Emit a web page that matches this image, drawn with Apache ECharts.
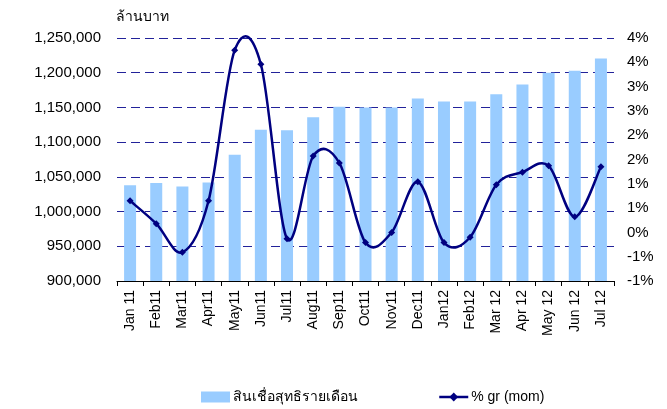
<!DOCTYPE html>
<html><head><meta charset="utf-8">
<script src="https://cdn.jsdelivr.net/npm/echarts@6/dist/echarts.min.js"></script>
<style>html,body{margin:0;padding:0;background:#fff}#c{width:667px;height:409px}</style>
</head><body><div id="c"></div>
<script>
const categories = ['Jan 11','Feb11','Mar11','Apr11','May11','Jun11','Jul11','Aug11','Sep11','Oct11','Nov11','Dec11','Jan12','Feb12','Mar 12','Apr 12','May 12','Jun 12','Jul 12'];
const loans = [1038000,1041000,1036000,1042000,1082000,1118000,1117000,1136000,1151000,1150000,1150000,1163000,1158500,1158500,1169000,1183000,1200000,1203000,1220500];
const growth = [0.65,0.18,-0.41,0.65,3.75,3.46,-0.13,1.57,1.43,-0.21,0.0,1.04,-0.21,-0.10,0.98,1.24,1.37,0.32,1.35];
const barName = 'สินเชื่อสุทธิรายเดือน';
const lineName = '% gr (mom)';
const unitTitle = 'ล้านบาท';

const chart = echarts.init(document.getElementById('c'));
const font = '"Liberation Sans", Arial, sans-serif';
const navy = '#000080';

function smoothPath(params, api) {
  if (params.dataIndex !== 0) return null;
  const pts = growth.map((v, i) => api.coord([i, v]));
  const n = pts.length;
  const path = [['M', pts[0][0], pts[0][1]]];
  const t = 1 / 6;
  for (let i = 0; i < n - 1; i++) {
    const p0 = pts[Math.max(0, i - 1)], p1 = pts[i], p2 = pts[i + 1], p3 = pts[Math.min(n - 1, i + 2)];
    const c1 = [p1[0] + (p2[0] - p0[0]) * t, p1[1] + (p2[1] - p0[1]) * t];
    const c2 = [p2[0] - (p3[0] - p1[0]) * t, p2[1] - (p3[1] - p1[1]) * t];
    path.push(['C', c1[0], c1[1], c2[0], c2[1], p2[0], p2[1]]);
  }
  const d = path.map(s => s[0] + s.slice(1).map(x => x.toFixed(2)).join(' ')).join(' ');
  return {
    type: 'path',
    shape: {pathData: d},
    style: {fill: null, stroke: navy, lineWidth: 2.5, lineJoin: 'round'}
  };
}

chart.setOption({
  animation: false,
  textStyle: {fontFamily: font},
  title: {text: unitTitle, left: 111, top: 5, textStyle: {fontSize: 14, fontWeight: 'normal', color: '#000', fontFamily: font}},
  grid: {left: 117, right: 53, top: 38, bottom: 128},
  legend: {
    bottom: 0, left: 196, itemGap: 80, itemWidth: 29, itemHeight: 11,
    textStyle: {fontSize: 14, color: '#000', fontFamily: font, padding: [0, 0, 0, -2]},
    data: [
      {name: barName, icon: 'rect'},
      {name: lineName, lineStyle: {color: navy, width: 2.5, opacity: 1}, itemStyle: {color: navy}}
    ]
  },
  xAxis: {
    type: 'category', data: categories, boundaryGap: true,
    axisLine: {onZero: false, lineStyle: {color: '#000', width: 1}},
    axisTick: {show: true, interval: 0, length: 5, lineStyle: {color: '#000'}},
    axisLabel: {rotate: 90, interval: 0, fontSize: 14, color: '#000', margin: 9, fontFamily: font}
  },
  yAxis: [{
    type: 'value', min: 900000, max: 1250000, interval: 50000,
    axisLine: {show: false}, axisTick: {show: false},
    axisLabel: {fontSize: 15, color: '#000', margin: 16, fontFamily: font,
      formatter: v => v.toLocaleString('en-US')},
    splitLine: {show: true, lineStyle: {color: '#22229a', type: [9, 5], width: 1}}
  }, {
    type: 'value', min: -1, max: 4, interval: 0.5,
    axisLine: {show: false}, axisTick: {show: false},
    axisLabel: {fontSize: 15, color: '#000', margin: 13, fontFamily: font,
      formatter: v => (v < 0 ? -Math.round(-v) : Math.round(v)) + '%'},
    splitLine: {show: false}
  }],
  series: [{
    name: barName, type: 'bar', data: loans, barWidth: 12, yAxisIndex: 0,
    itemStyle: {color: '#99CCFF'}
  }, {
    name: lineName + ' curve', type: 'custom', yAxisIndex: 1, z: 3,
    data: growth.map((v, i) => [i, v]),
    renderItem: smoothPath
  }, {
    name: lineName, type: 'line', data: growth, yAxisIndex: 1, z: 4,
    symbol: 'diamond', symbolSize: 7,
    lineStyle: {color: navy, width: 2.5, opacity: 0},
    itemStyle: {color: navy}
  }]
});
</script></body></html>
